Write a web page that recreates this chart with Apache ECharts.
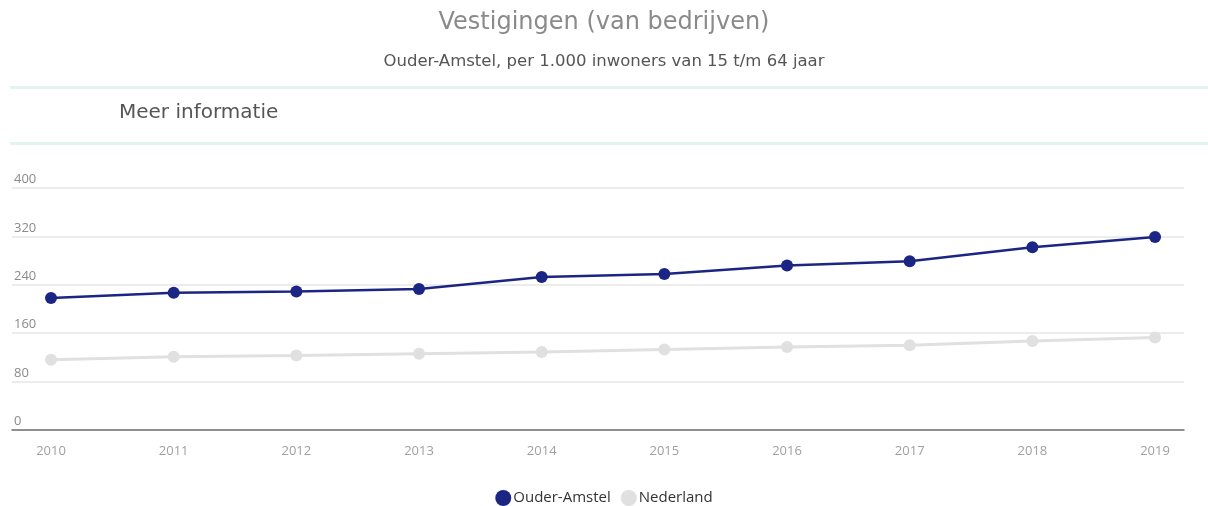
<!DOCTYPE html>
<html>
<head>
<meta charset="utf-8">
<script src="https://cdn.jsdelivr.net/npm/echarts@6/dist/echarts.min.js"></script>
<style>
	html, body { margin: 0; padding: 0; background: #fff; }
	#chart { width: 1208px; height: 506px; }
</style>
</head>
<body>
<div id="chart"></div>
<script>
// data
let years = [2010, 2011, 2012, 2013, 2014, 2015, 2016, 2017, 2018, 2019];
let ouderAmstel = [218, 227, 229, 233, 253, 258, 272, 279, 302, 319];
let nederland = [116, 121, 123, 126, 129, 133, 137, 140, 147, 153];
let yTicks = [0, 80, 160, 240, 320, 400];

(function() {
	let myChart = echarts.init(document.getElementById('chart'));
	let font = '"Open Sans", sans-serif';
	let wide = '"DejaVu Sans", sans-serif';

	let option = {
		animation: false,
		title: {
			text: 'Vestigingen (van bedrijven)',
			subtext: 'Ouder-Amstel, per 1.000 inwoners van 15 t/m 64 jaar',
			left: 'center',
			top: 6,
			itemGap: 18,
			textStyle: { fontFamily: wide, fontSize: 24, fontWeight: 'normal', color: '#8a8a8a' },
			subtextStyle: { fontFamily: wide, fontSize: 16.5, color: '#555' }
		},
		// scheidingslijnen en "Meer informatie"
		graphic: [
			{ type: 'rect', shape: { x: 10, y: 86, width: 1198, height: 3 }, style: { fill: '#e2f3f1' } },
			{ type: 'rect', shape: { x: 10, y: 142, width: 1198, height: 3 }, style: { fill: '#e2f3f1' } },
			{ type: 'text', left: 119, top: 103, style: { text: 'Meer informatie', fontFamily: wide, fontSize: 20, fill: '#555' } }
		],
		legend: {
			bottom: -5,
			left: 'center',
			icon: 'circle',
			itemWidth: 16,
			itemHeight: 16,
			itemGap: 10,
			itemStyle: { borderWidth: 0 },
			textStyle: { fontFamily: font, fontSize: 15, color: '#333', padding: [0, 0, 0, -3] },
			data: ['Ouder-Amstel', 'Nederland']
		},
		grid: {
			left: 12,
			right: 24,
			top: 188,
			bottom: 76
		},
		xAxis: {
			type: 'value',
			min: years[0] - 0.318,
			max: years[years.length - 1] + 0.236,
			splitLine: { show: false },
			axisTick: { show: false },
			axisLine: { show: true, onZero: false, lineStyle: { color: '#707070', width: 1.5 } },
			axisLabel: {
				customValues: years,
				formatter: function(v) { return String(v); },
				color: '#a0a0a0',
				fontFamily: font,
				fontSize: 13,
				margin: 15
			}
		},
		yAxis: {
			type: 'value',
			min: yTicks[0],
			max: yTicks[yTicks.length - 1],
			interval: 80,
			axisLine: { show: false },
			axisTick: { show: false },
			splitLine: { lineStyle: { color: '#e6e6e6', width: 1.5 } },
			axisLabel: {
				inside: true,
				margin: 2,
				verticalAlign: 'bottom',
				padding: [0, 0, 2, 0],
				color: '#8a8a8a',
				fontFamily: font,
				fontSize: 13
			}
		},
		series: [
			{
				name: 'Nederland',
				type: 'line',
				symbol: 'circle',
				symbolSize: 12,
				color: '#e0e0e0',
				lineStyle: { width: 3, color: '#e0e0e0' },
				itemStyle: { color: '#e0e0e0' },
				data: years.map((y, i) => [y, nederland[i]])
			},
			{
				name: 'Ouder-Amstel',
				type: 'line',
				symbol: 'circle',
				symbolSize: 12,
				color: '#1b2584',
				lineStyle: { width: 2.5, color: '#1b2584' },
				itemStyle: { color: '#1b2584' },
				data: years.map((y, i) => [y, ouderAmstel[i]])
			}
		]
	};

	myChart.setOption(option);

	window.addEventListener('resize', function() {
		myChart.resize();
	})
})();
</script>
</body>
</html>
